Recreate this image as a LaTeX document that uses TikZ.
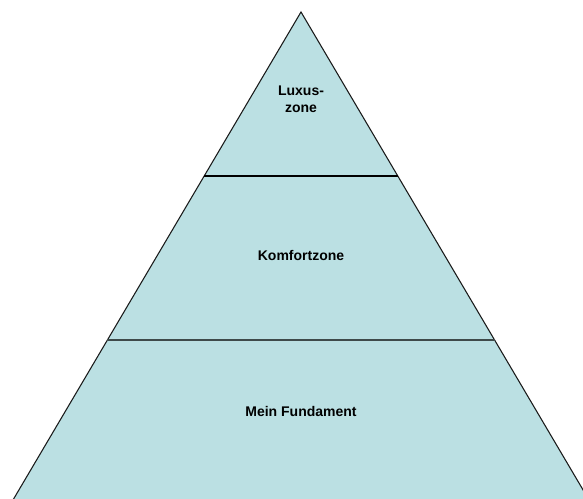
\documentclass[tikz,border=0pt]{standalone}
\usepackage{fontspec}
\setmainfont{Liberation Sans}
\usepackage{tikz}
\usetikzlibrary{
  calc,
  positioning
}
\definecolor{pyFill}{HTML}{BBE0E3}
\definecolor{pyEdge}{HTML}{1A1A1A}
\definecolor{pySplit}{HTML}{3E4A4A}
\tikzset{
  pyramid/.style={fill=pyFill, draw=pyEdge, line width=0.8pt, line join=miter},
  upperline/.style={draw=black, line width=1.4pt},
  lowerline/.style={draw=pySplit, line width=1.6pt},
  zonelabel/.style={font=\fontsize{10.5}{13}\selectfont\bfseries, align=center, inner sep=1pt}
}

\begin{document}
\begin{tikzpicture}[x=0.75pt, y=-0.75pt]
  \useasboundingbox (0,0) rectangle (583,499);
  \clip (0,0) rectangle (583,499);
  \coordinate (top) at (301,12);
  \coordinate (bl) at (12.1,501.5);
  \coordinate (br) at (589.9,501.5);
  % pyramid body
  \draw[pyramid] (top) -- (br) -- (bl) -- cycle;
  % zone borders
  \coordinate (l1) at ($(top)!0.3344!(bl)$);
  \coordinate (r1) at ($(top)!0.3344!(br)$);
  \coordinate (l2) at ($(top)!0.6701!(bl)$);
  \coordinate (r2) at ($(top)!0.6701!(br)$);
  \draw[upperline] (l1) -- (r1);
  \draw[lowerline] (l2) -- (r2);
  % labels
  \node[zonelabel] (luxus) at (301,99) {Luxus-\\zone};
  \node[zonelabel] (komfort) at (301,255) {Komfortzone};
  \node[zonelabel] (fundament) at (301,411) {Mein Fundament};
\end{tikzpicture}
\end{document}
